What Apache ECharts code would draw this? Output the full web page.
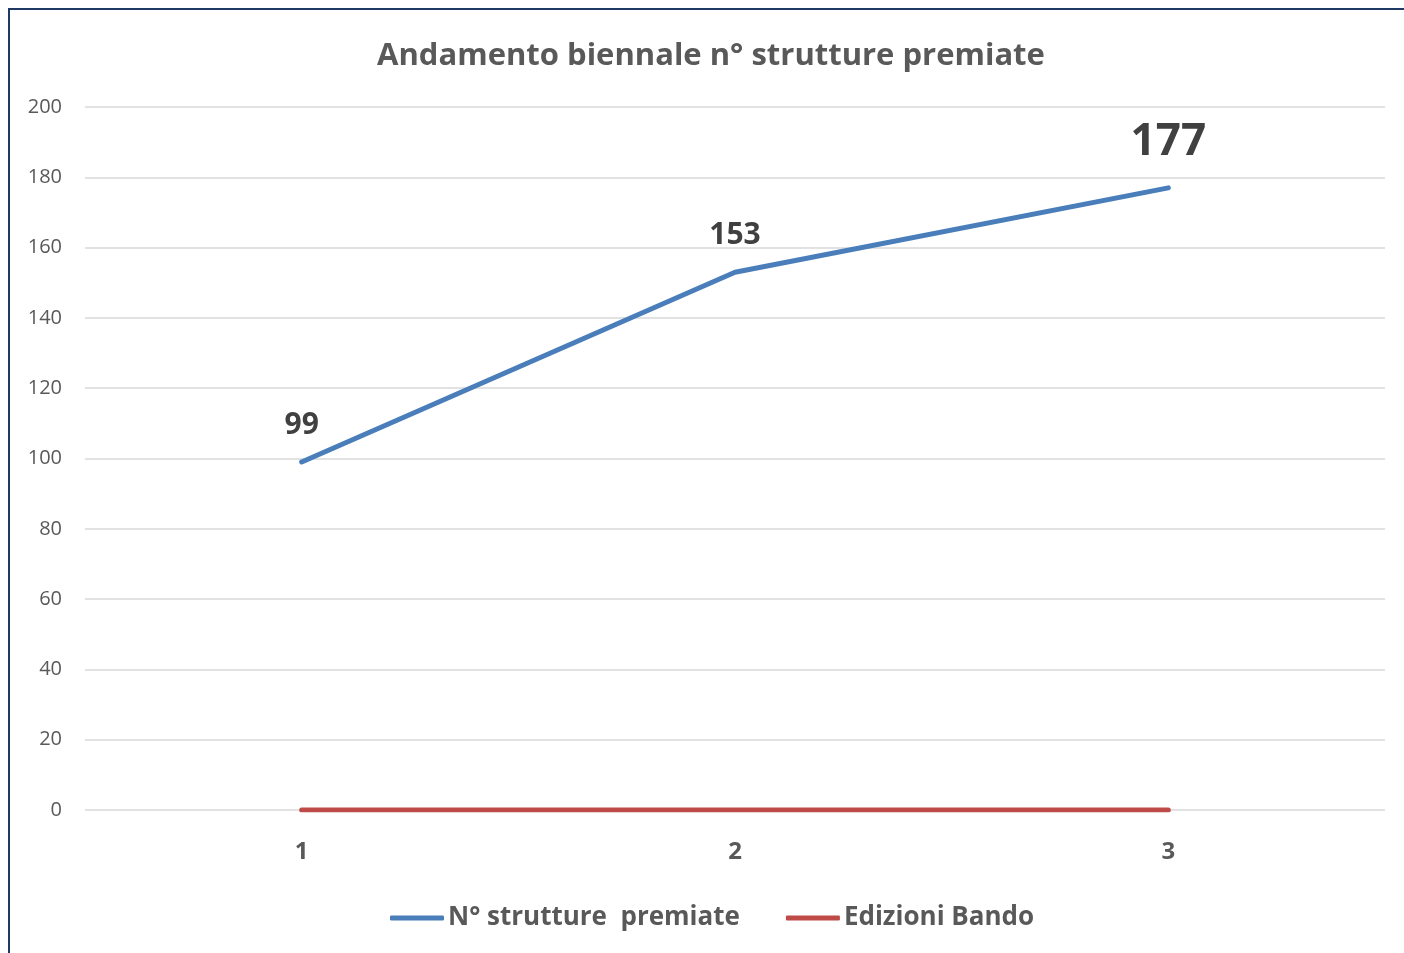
<!DOCTYPE html>
<html>
<head>
<meta charset="utf-8">
<script src="https://cdn.jsdelivr.net/npm/echarts@6/dist/echarts.min.js"></script>
<style>
html,body{margin:0;padding:0;background:#fff;}
#c{width:1404px;height:953px;}
</style>
</head>
<body>
<div id="c"></div>
<script>
const categories = ['1', '2', '3'];
const strutturePremiate = [99, 153, 177];
const edizioniBando = [0, 0, 0];
const seriesNames = ['N° strutture  premiate', 'Edizioni Bando'];
const titleText = 'Andamento biennale n° strutture premiate';

const FONT = '"Open Sans", "Liberation Sans", sans-serif';
const chart = echarts.init(document.getElementById('c'));
const lastIdx = strutturePremiate.length - 1;
chart.setOption({
  animation: false,
  backgroundColor: '#fff',
  title: {
    text: titleText,
    left: 706, top: 36, textAlign: 'center',
    textStyle: {fontFamily: FONT, fontSize: 31, fontWeight: 'bold', color: '#595959'}
  },
  graphic: [{
    type: 'rect', silent: true, z: 100,
    shape: {x: 9, y: 9, width: 1500, height: 1200},
    style: {fill: 'none', stroke: '#1F3864', lineWidth: 2}
  }],
  legend: {
    bottom: 17, left: 385,
    itemGap: 46, itemWidth: 54, itemHeight: 5, icon: 'roundRect',
    textStyle: {fontFamily: FONT, fontSize: 26, fontWeight: 'bold', color: '#595959', padding: [0,0,0,-1]},
    data: [
      {name: seriesNames[0], itemStyle: {color: '#4A7EBB', opacity: 1}},
      {name: seriesNames[1], itemStyle: {color: '#BE4B48', opacity: 1}}
    ]
  },
  grid: {left: 85, right: 19, top: 107, bottom: 143, containLabel: false},
  xAxis: {
    type: 'category', data: categories, boundaryGap: true,
    axisLine: {show: false}, axisTick: {show: false},
    axisLabel: {fontFamily: FONT, fontSize: 24, fontWeight: 'bold', color: '#595959', margin: 30}
  },
  yAxis: {
    type: 'value', min: 0, max: 200, interval: 20,
    axisLine: {show: false}, axisTick: {show: false},
    axisLabel: {fontFamily: FONT, fontSize: 20, color: '#595959', margin: 23},
    splitLine: {lineStyle: {color: '#D9D9D9', width: 1.5}}
  },
  series: [
    {
      name: seriesNames[0], type: 'line',
      data: strutturePremiate.map((v, i) => i === lastIdx
        ? {value: v, label: {fontSize: 44, distance: 22}}
        : v),
      symbol: 'circle', symbolSize: 2, showSymbol: true,
      lineStyle: {color: '#4A7EBB', width: 5, cap: 'round'},
      itemStyle: {color: '#4A7EBB'},
      label: {
        show: true, position: 'top', distance: 21,
        fontFamily: FONT, fontSize: 30, fontWeight: 'bold', color: '#404040'
      },
      z: 3
    },
    {
      name: seriesNames[1], type: 'line', data: edizioniBando,
      symbol: 'none', showSymbol: false,
      lineStyle: {color: '#BE4B48', width: 5, cap: 'round'},
      itemStyle: {color: '#BE4B48'},
      z: 2
    }
  ]
});
</script>
</body>
</html>
